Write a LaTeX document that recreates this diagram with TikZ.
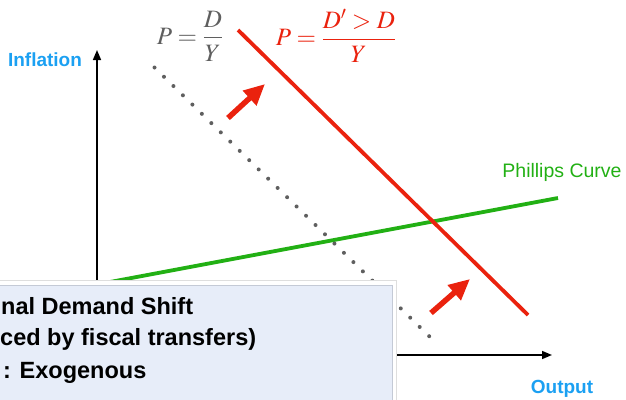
\documentclass[tikz,border=0pt]{standalone}
\usepackage{mathptmx}
\usepackage[no-math]{fontspec}
\newfontfamily\labelfont{Liberation Sans}
\usetikzlibrary{arrows.meta, positioning}
\definecolor{AxisBlue}{RGB}{27,160,242}
\definecolor{CurveGreen}{RGB}{34,176,20}
\definecolor{ShiftRed}{RGB}{234,34,14}
\definecolor{DotGray}{RGB}{95,95,95}
\definecolor{BoxBG}{RGB}{231,237,249}
\definecolor{BoxRule}{RGB}{196,202,214}
\definecolor{ShadowRule}{RGB}{222,222,222}

\begin{document}
\begin{tikzpicture}[
  x=1pt, y=-1pt,
  axis/.style={line width=1.6pt, -{Triangle[length=10pt,width=8pt]}},
  axislabel/.style={font=\labelfont\bfseries\fontsize{19}{22}\selectfont, text=AxisBlue},
  curve/.style={line width=3.8pt},
  shiftarrow/.style={draw=ShiftRed, line width=5.5pt, -{Triangle[length=21pt,width=19pt]}},
  formula/.style={font=\fontsize{25}{30}\selectfont, inner sep=0pt},
  boxtext/.style={font=\labelfont\bfseries\fontsize{23.5}{28}\selectfont, inner sep=0pt, anchor=base west}
]
\useasboundingbox (0,0) rectangle (626,399);
\clip (0,0) rectangle (626,399);

% axes
\coordinate (origin) at (97,355);
\coordinate (ytop)   at (97,50);
\coordinate (xend)   at (552,355);
\draw[axis] (origin) -- (ytop);
\draw[axis] (origin) -- (xend);
\node[axislabel] (ylab) at (45,60)  {Inflation};
\node[axislabel] (xlab) at (562,389) {Output};

% curves
\coordinate (pc0) at (110,282);
\coordinate (pc1) at (558,198);
\draw[curve, draw=CurveGreen] (pc0) -- (pc1);
\node[font=\labelfont\fontsize{19.5}{22}\selectfont, text=CurveGreen] (pclab) at (562,172) {Phillips Curve};

\coordinate (ad0) at (154.5,67.5);
\coordinate (ad1) at (431,338);
\draw[DotGray, line width=4pt, line cap=round, dash pattern=on 0pt off 13.25pt] (ad0) -- (ad1);

\coordinate (ad2) at (238,30);
\coordinate (ad3) at (528,315);
\draw[curve, draw=ShiftRed] (ad2) -- (ad3);

% shift arrows
\coordinate (s1a) at (228,118);
\coordinate (s1b) at (265,84);
\coordinate (s2a) at (431,313);
\coordinate (s2b) at (470,279);
\draw[shiftarrow] (s1a) -- (s1b);
\draw[shiftarrow] (s2a) -- (s2b);

% formulas
\node[formula, text=DotGray] (fold) at (190,36) {$\displaystyle P=\frac{D}{Y}$};
\node[formula, text=ShiftRed] (fnew) at (336,36) {$\displaystyle P=\frac{D'>D}{Y}$};

% note box
\draw[ShadowRule, fill=white, line width=0.8pt] (-20,280) rectangle (396,420);
\draw[BoxRule, fill=BoxBG, line width=0.8pt] (-20,285) rectangle (392,420);
\node[boxtext] (t1) at (1,314) {nal Demand Shift};
\node[boxtext] (t2) at (0,345) {ced by fiscal transfers)};
\node[boxtext] (t3) at (3,378) {: Exogenous};
\end{tikzpicture}
\end{document}
